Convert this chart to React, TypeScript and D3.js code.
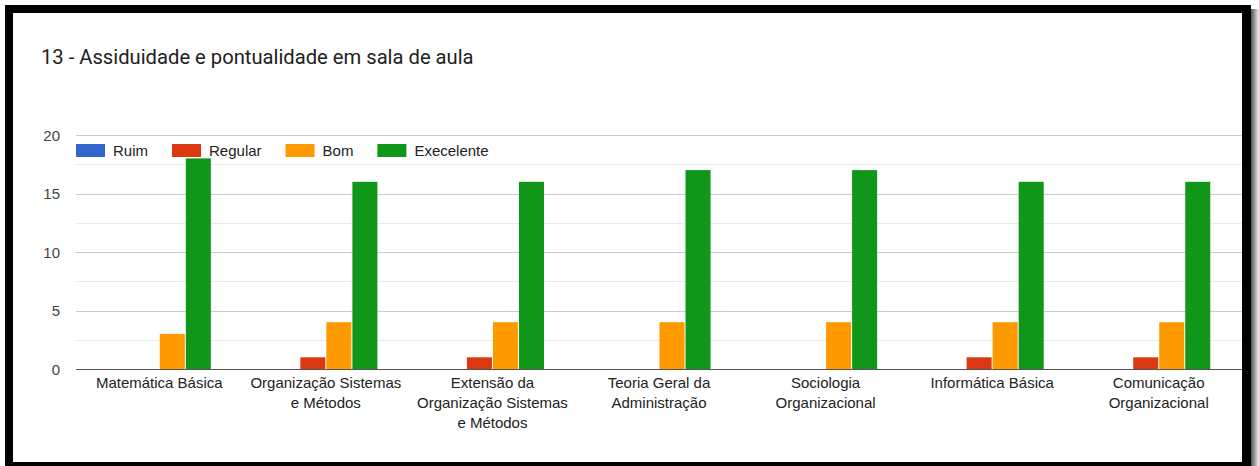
import React, { useEffect, useRef } from "react";
import * as d3 from "d3";

const title = "13 - Assiduidade e pontualidade em sala de aula";
const categories = [
  "Matemática Básica",
  "Organização Sistemas e Métodos",
  "Extensão da Organização Sistemas e Métodos",
  "Teoria Geral da Administração",
  "Sociologia Organizacional",
  "Informática Básica",
  "Comunicação Organizacional",
];
const categoryLines = [
  ["Matemática Básica"],
  ["Organização Sistemas", "e Métodos"],
  ["Extensão da", "Organização Sistemas", "e Métodos"],
  ["Teoria Geral da", "Administração"],
  ["Sociologia", "Organizacional"],
  ["Informática Básica"],
  ["Comunicação", "Organizacional"],
];
const seriesNames = ["Ruim", "Regular", "Bom", "Execelente"];
const seriesColors = ["#3366cc", "#dc3912", "#ff9900", "#109618"];
const ruim = [0, 0, 0, 0, 0, 0, 0];
const regular = [0, 1, 1, 0, 0, 1, 1];
const bom = [3, 4, 4, 4, 4, 4, 4];
const execelente = [18, 16, 16, 17, 17, 16, 16];
const seriesValues = [ruim, regular, bom, execelente];
const yTicks = [0, 5, 10, 15, 20];
const yMinorTicks = [2.5, 7.5, 12.5, 17.5];

const W = 1259;
const H = 466;
const LABEL_FONT = "'Liberation Sans', Arial, sans-serif";

export default function App() {
  const ref = useRef<SVGSVGElement>(null);

  useEffect(() => {
    const svg = d3.select(ref.current);
    svg.selectAll("*").remove();

    const left = 76;
    const right = 1242;
    const top = 135;
    const bottom = 369;

    const y = d3.scaleLinear().domain([0, 20]).range([bottom, top]);
    const x0 = d3.scaleBand<string>().domain(categories).range([left, right]).paddingInner(0).paddingOuter(0);
    const x1 = d3
      .scaleBand<string>()
      .domain(seriesNames)
      .range([0, x0.bandwidth()])
      .paddingInner(0)
      .paddingOuter(1.2);

    svg.append("rect").attr("x", 0).attr("y", 0).attr("width", W).attr("height", H).attr("fill", "#ffffff");

    svg
      .append("text")
      .attr("x", 41)
      .attr("y", 64)
      .attr("font-family", "Roboto, Arial, sans-serif")
      .attr("font-size", 20.2)
      .attr("fill", "#212121")
      .text(title);

    svg
      .append("g")
      .selectAll("line")
      .data(yMinorTicks)
      .join("line")
      .attr("x1", left)
      .attr("x2", right)
      .attr("y1", (d) => Math.round(y(d)) + 0.5)
      .attr("y2", (d) => Math.round(y(d)) + 0.5)
      .attr("stroke", "#ebebeb");

    svg
      .append("g")
      .selectAll("line")
      .data(yTicks.filter((d) => d !== 0))
      .join("line")
      .attr("x1", left)
      .attr("x2", right)
      .attr("y1", (d) => Math.round(y(d)) + 0.5)
      .attr("y2", (d) => Math.round(y(d)) + 0.5)
      .attr("stroke", "#cccccc");

    svg
      .append("g")
      .selectAll("text")
      .data(yTicks)
      .join("text")
      .attr("x", 60)
      .attr("y", (d) => y(d) + 5.5)
      .attr("text-anchor", "end")
      .attr("font-family", LABEL_FONT)
      .attr("font-size", 15)
      .attr("fill", "#444444")
      .text((d) => String(d));

    const groups = svg
      .append("g")
      .selectAll("g")
      .data(categories)
      .join("g")
      .attr("transform", (c) => `translate(${x0(c)},0)`);

    groups
      .selectAll("rect")
      .data((c) => seriesNames.map((s, k) => ({ s, k, v: seriesValues[k][categories.indexOf(c)] })))
      .join("rect")
      .attr("x", (d) => (x1(d.s) as number) + 0.5)
      .attr("y", (d) => y(d.v))
      .attr("width", x1.bandwidth() - 1)
      .attr("height", (d) => y(0) - y(d.v))
      .attr("fill", (d) => seriesColors[d.k]);

    svg
      .append("line")
      .attr("x1", left)
      .attr("x2", right)
      .attr("y1", bottom + 0.5)
      .attr("y2", bottom + 0.5)
      .attr("stroke", "#555555");

    const xl = svg.append("g");
    categories.forEach((c, i) => {
      const cx = (x0(c) as number) + x0.bandwidth() / 2;
      const t = xl
        .append("text")
        .attr("text-anchor", "middle")
        .attr("font-family", LABEL_FONT)
        .attr("font-size", 15)
        .attr("fill", "#222222");
      categoryLines[i].forEach((line, j) => {
        t.append("tspan").attr("x", cx).attr("y", 388 + j * 20).text(line);
      });
    });

    const lg = svg.append("g");
    let lx = left;
    seriesNames.forEach((s, k) => {
      lg.append("rect").attr("x", lx).attr("y", 144).attr("width", 29).attr("height", 13).attr("fill", seriesColors[k]);
      const t = lg
        .append("text")
        .attr("x", lx + 37)
        .attr("y", 156)
        .attr("font-family", LABEL_FONT)
        .attr("font-size", 15)
        .attr("fill", "#222222")
        .text(s);
      const tw = (t.node() as SVGTextElement).getComputedTextLength();
      lx = lx + 37 + tw + 24;
    });

    const defs = svg.append("defs");
    const grad = defs.append("linearGradient").attr("id", "shadow").attr("x1", "0").attr("x2", "1").attr("y1", "0").attr("y2", "0");
    grad.append("stop").attr("offset", "0%").attr("stop-color", "#555555");
    grad.append("stop").attr("offset", "100%").attr("stop-color", "#f2f2f2");
    svg.append("rect").attr("x", 1251).attr("y", 9).attr("width", 8).attr("height", H - 9).attr("fill", "url(#shadow)");

    const frame = svg.append("g").attr("fill", "#000000");
    frame.append("rect").attr("x", 5).attr("y", 5).attr("width", 8).attr("height", H - 5);
    frame.append("rect").attr("x", 5).attr("y", 5).attr("width", 1246).attr("height", 8);
    frame.append("rect").attr("x", 1242).attr("y", 5).attr("width", 9).attr("height", H - 5);
    frame.append("rect").attr("x", 5).attr("y", 462).attr("width", 1246).attr("height", 4);
  }, []);

  return (
    <svg
      ref={ref}
      width={W}
      height={H}
      style={{ position: "absolute", left: 0, top: 0, display: "block" }}
    />
  );
}
